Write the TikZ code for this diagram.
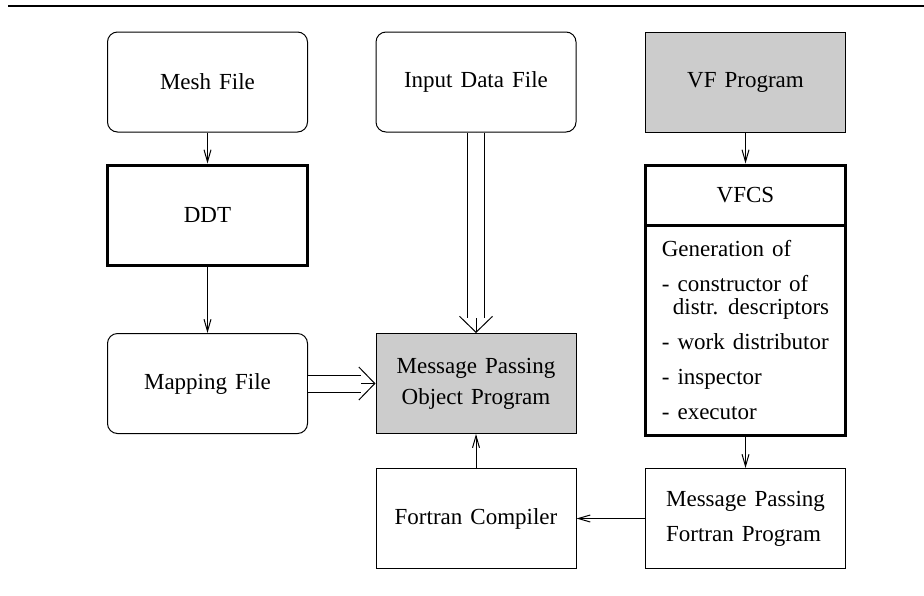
\documentclass[tikz,border=0pt]{standalone}
\usepackage{fontspec}
\setmainfont{Liberation Serif}[WordSpace=1.4]
\usetikzlibrary{arrows.meta}
\definecolor{boxgray}{gray}{0.8}

\begin{document}
\begin{tikzpicture}[
  x=0.5pt, y=-0.5pt,
  filebox/.style={
    rectangle, rounded corners=5pt,
    minimum width=100pt, minimum height=50pt,
    draw, line width=0.5pt,
    font=\fontsize{11.5}{15.5}\selectfont,
    align=center
  },
  progbox/.style={
    rectangle,
    minimum width=100pt, minimum height=50pt,
    draw, line width=0.5pt,
    font=\fontsize{11.5}{15.5}\selectfont,
    align=center
  },
  toolbox/.style={progbox, line width=1.5pt},
  conn/.style={-{Straight Barb[length=6pt,width=3.5pt]}, line width=0.5pt},
  dblhead/.style={-{Straight Barb[length=8pt,width=16.5pt]}, line width=0.5pt},
  dblconn/.style={double, double distance=8pt, line width=0.5pt, shorten >=7.5pt}
]
\useasboundingbox (0,0) rectangle (924,595);
\draw[line width=1.2pt] (8,6) -- (924,6);

% inputs
\node[filebox]               (mesh) at (207.5,82)  {Mesh File};
\node[filebox]               (inp)  at (476,82)    {Input Data File};
\node[progbox, fill=boxgray] (vf)   at (745.5,82)  {VF Program};

% tools
\node[toolbox]               (ddt)  at (207.5,215) {DDT};
\node[toolbox, minimum height=30pt] (vfcs) at (745.5,195) {VFCS};
\node[toolbox, minimum height=105pt, align=left,
      font=\fontsize{11.5}{11.5}\selectfont] (vfcsb) at (745.5,330)
  {Generation of\\[6pt]
   - constructor of\\
   \hspace*{5.5pt}distr. descriptors\\[6pt]
   - work distributor\\[6pt]
   - inspector\\[6pt]
   - executor};

% outputs
\node[filebox]               (map)  at (207.5,383.5) {Mapping File};
\node[progbox, fill=boxgray] (mpo)  at (476,383.5)
  {Message Passing\\Object Program};
\node[progbox]               (fc)   at (476,518.5)   {Fortran Compiler};
\node[progbox, align=left, font=\fontsize{11.5}{17.5}\selectfont] (mpf) at (745.5,518.5)
  {Message Passing\\Fortran Program};

\draw[conn] (mesh) -- (ddt);
\draw[conn] (ddt) -- (map);
\draw[conn] (vf) -- (vfcs);
\draw[conn] (vfcsb) -- (mpf);
\draw[conn] (mpf) -- (fc);
\draw[conn] (fc) -- (mpo);
% double flows: head first, the double line covers its stem
\draw[dblhead] (inp) -- (mpo);
\draw[dblconn] (inp) -- (mpo);
\draw[dblhead] (map) -- (mpo);
\draw[dblconn] (map) -- (mpo);
\end{tikzpicture}
\end{document}
